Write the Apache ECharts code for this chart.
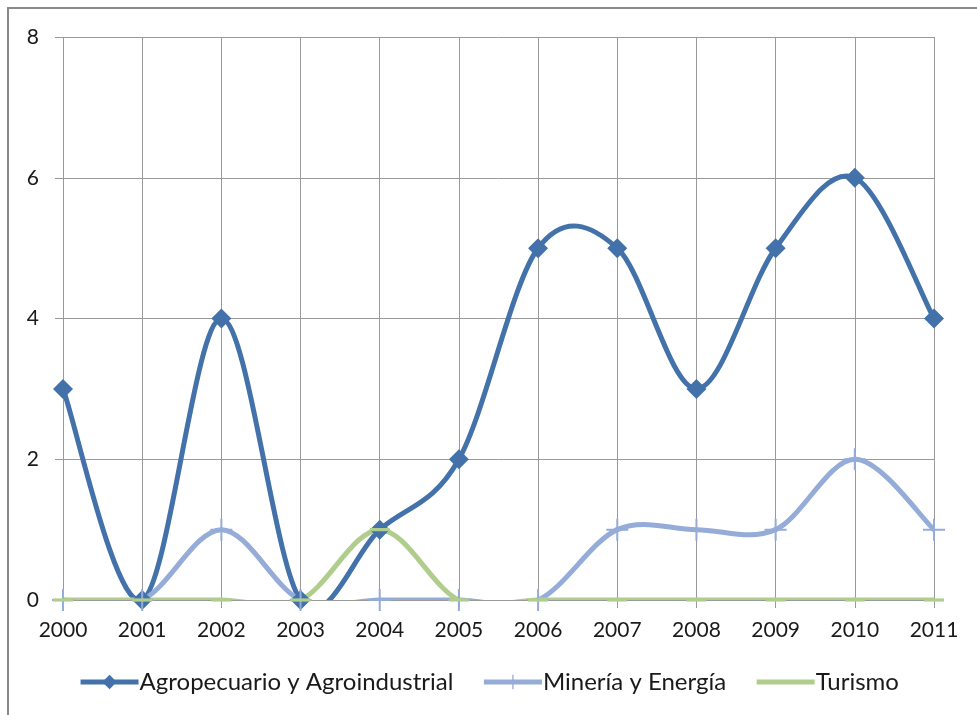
<!DOCTYPE html>
<html>
<head>
<meta charset="utf-8">
<script src="https://cdn.jsdelivr.net/npm/echarts@6/dist/echarts.min.js"></script>
<style>
  html, body { margin: 0; padding: 0; background: #ffffff; overflow: hidden; }
  #frame {
    position: absolute; left: 7px; top: 7px; width: 970px; height: 708px;
    border-left: 2px solid #8a8a8a; border-top: 2px solid #8a8a8a;
  }
  #chart { position: absolute; left: 0; top: 0; width: 977px; height: 715px; }
</style>
</head>
<body>
<div id="frame"></div>
<div id="chart"></div>
<script>
var years = ["2000", "2001", "2002", "2003", "2004", "2005", "2006", "2007", "2008", "2009", "2010", "2011"];
var agro = [3, 0, 4, 0, 1, 2, 5, 5, 3, 5, 6, 4];
var mineria = [0, 0, 1, 0, 0, 0, 0, 1, 1, 1, 2, 1];
var turismo = [0, 0, 0, 0, 1, 0, 0, 0, 0, 0, 0, 0];
var seriesNames = ["Agropecuario y Agroindustrial", "Minería y Energía", "Turismo"];
var colors = ["#4372aa", "#94acd7", "#b1cd8e"];

var plusPath = "path://M0,10H22V12H0Z M10,0H12V22H10Z";
var dashPath = "path://M0,0H20V8H0Z";
var font = "Lato, 'Open Sans', sans-serif";

// excel-like smoothed line: catmull-rom segments through the data points
function curveSeries(values, color) {
  return {
    type: "custom",
    clip: true,
    silent: true,
    data: values.map(function(v, i) { return [i, v]; }),
    encode: { x: 0, y: 1 },
    renderItem: function(params, api) {
      var i = params.dataIndex;
      var n = values.length;
      if (i >= n - 1) return null;
      var p0 = api.coord([Math.max(i - 1, 0), values[Math.max(i - 1, 0)]]);
      var p1 = api.coord([i, values[i]]);
      var p2 = api.coord([i + 1, values[i + 1]]);
      var p3 = api.coord([Math.min(i + 2, n - 1), values[Math.min(i + 2, n - 1)]]);
      return {
        type: "bezierCurve",
        shape: {
          x1: p1[0], y1: p1[1],
          x2: p2[0], y2: p2[1],
          cpx1: p1[0] + (p2[0] - p0[0]) / 6,
          cpy1: p1[1] + (p2[1] - p0[1]) / 6,
          cpx2: p2[0] - (p3[0] - p1[0]) / 6,
          cpy2: p2[1] - (p3[1] - p1[1]) / 6
        },
        style: { stroke: color, lineWidth: 5, fill: null, lineCap: "round" }
      };
    }
  };
}

function markerSeries(name, values, symbol, size, color) {
  return {
    name: name,
    type: "line",
    data: values,
    clip: false,
    symbol: symbol,
    symbolSize: size,
    symbolKeepAspect: true,
    showAllSymbol: true,
    lineStyle: { width: 0 },
    itemStyle: { color: color }
  };
}

var chart = echarts.init(document.getElementById("chart"));
chart.setOption({
  backgroundColor: "transparent",
  animation: false,
  color: colors,
  grid: { left: 63, right: 43, top: 37, bottom: 115, containLabel: false },
  legend: {
    bottom: 16,
    left: "center",
    itemWidth: 58,
    itemHeight: 18,
    itemGap: 28,
    lineStyle: { width: 5 },
    textStyle: { fontFamily: font, fontSize: 24, color: "#1a1a1a", padding: [0, 0, 0, -4] },
    data: [
      seriesNames[0],
      seriesNames[1],
      { name: seriesNames[2], itemStyle: { opacity: 0 } }
    ]
  },
  xAxis: {
    type: "category",
    data: years,
    boundaryGap: false,
    axisLine: { lineStyle: { color: "#9a9a9a", width: 1 } },
    axisTick: { show: true, length: 8, lineStyle: { color: "#9a9a9a" } },
    axisLabel: { fontFamily: font, fontSize: 21, color: "#1a1a1a", margin: 20 },
    splitLine: { show: true, lineStyle: { color: "#9a9a9a", width: 1 } }
  },
  yAxis: {
    type: "value",
    min: 0,
    max: 8,
    interval: 2,
    axisLine: { show: false },
    axisTick: { show: true, length: 8, lineStyle: { color: "#9a9a9a" } },
    axisLabel: { fontFamily: font, fontSize: 21, color: "#1a1a1a", margin: 24 },
    splitLine: { show: true, lineStyle: { color: "#9a9a9a", width: 1 } }
  },
  series: [
    curveSeries(agro, colors[0]),
    markerSeries(seriesNames[0], agro, "diamond", 20, colors[0]),
    curveSeries(mineria, colors[1]),
    markerSeries(seriesNames[1], mineria, plusPath, 22, colors[1]),
    curveSeries(turismo, colors[2]),
    markerSeries(seriesNames[2], turismo, dashPath, [20, 8], colors[2])
  ]
});
</script>
</body>
</html>
